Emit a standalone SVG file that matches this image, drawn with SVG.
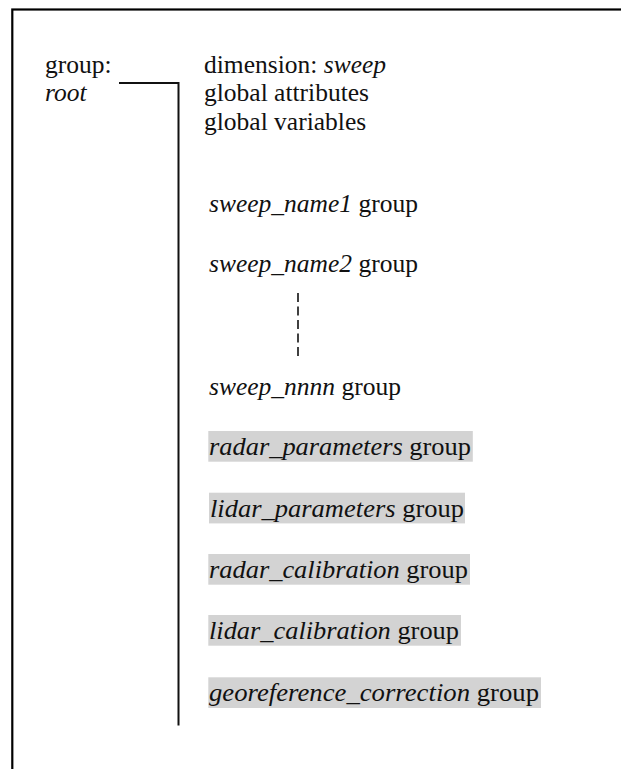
<svg xmlns="http://www.w3.org/2000/svg" width="621" height="769" viewBox="0 0 621 769">
<style>
text{font-size:25.5px;fill:#111}
.i{font-style:italic}
.hl{fill:#d3d3d3}
.ln{stroke:#111;stroke-width:2;fill:none}
</style>
<rect x="0" y="0" width="621" height="769" fill="#fff"/>
<rect id="frame" x="12.3" y="9.5" width="640" height="800" fill="none" stroke="#000" stroke-width="2.2"/>
<g id="root"><text font-family="Liberation Serif" x="45" y="73">group:</text><text font-family="Liberation Serif" class="i" x="45" y="101">root</text></g>
<g id="connectors">
<path class="ln" d="M119 83H178.5V725.5"/>
<path d="M298 293V357" stroke="#111" stroke-width="1.6" stroke-dasharray="9 4.5"/>
</g>
<g id="globals">
<text font-family="Liberation Serif" x="204" y="73">dimension: <tspan class="i">sweep</tspan></text>
<text font-family="Liberation Serif" x="204" y="101">global attributes</text>
<text font-family="Liberation Serif" x="204" y="130">global variables</text>
</g>
<g id="sweep1"><text font-family="Liberation Serif" x="209" y="212"><tspan class="i">sweep_name1</tspan> group</text></g>
<g id="sweep2"><text font-family="Liberation Serif" x="209" y="272"><tspan class="i">sweep_name2</tspan> group</text></g>
<g id="sweepn"><text font-family="Liberation Serif" x="209" y="395"><tspan class="i">sweep_nnnn</tspan> group</text></g>
<g id="radar_parameters"><rect class="hl" x="208.3" y="431" width="264.5" height="30.7"/><text font-family="Liberation Serif" x="209" y="455" textLength="262" lengthAdjust="spacingAndGlyphs"><tspan class="i">radar_parameters</tspan> group</text></g>
<g id="lidar_parameters"><rect class="hl" x="209" y="492.7" width="256" height="30.7"/><text font-family="Liberation Serif" x="210" y="517" textLength="254" lengthAdjust="spacingAndGlyphs"><tspan class="i">lidar_parameters</tspan> group</text></g>
<g id="radar_calibration"><rect class="hl" x="208.3" y="554" width="261.7" height="30.7"/><text font-family="Liberation Serif" x="209" y="578" textLength="259" lengthAdjust="spacingAndGlyphs"><tspan class="i">radar_calibration</tspan> group</text></g>
<g id="lidar_calibration"><rect class="hl" x="208.3" y="615" width="252.7" height="30.7"/><text font-family="Liberation Serif" x="209" y="639" textLength="250" lengthAdjust="spacingAndGlyphs"><tspan class="i">lidar_calibration</tspan> group</text></g>
<g id="georeference_correction"><rect class="hl" x="208.3" y="677.3" width="332.7" height="30.7"/><text font-family="Liberation Serif" x="209" y="701" textLength="330" lengthAdjust="spacingAndGlyphs"><tspan class="i">georeference_correction</tspan> group</text></g>
</svg>
